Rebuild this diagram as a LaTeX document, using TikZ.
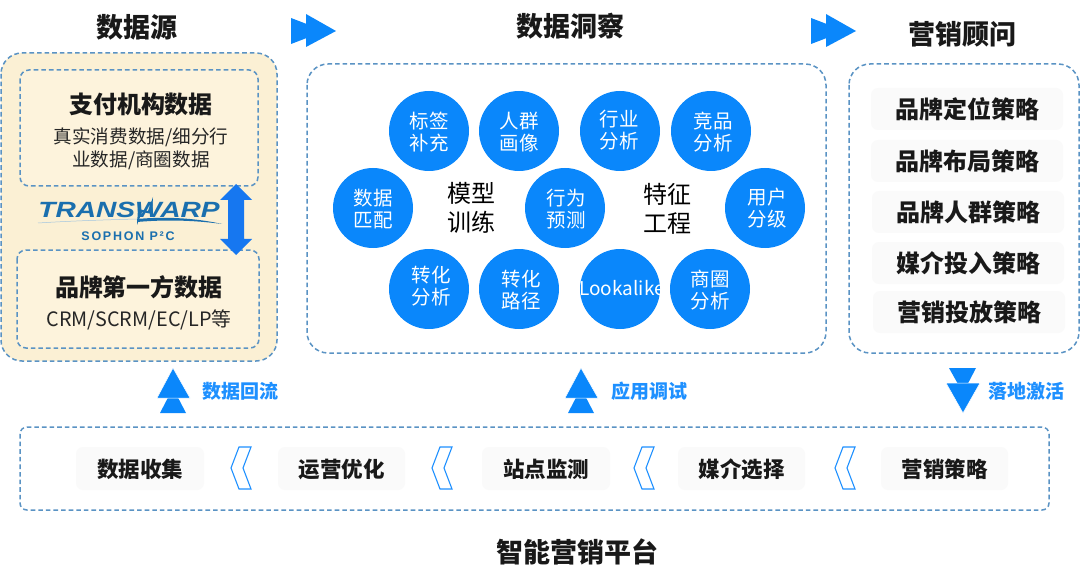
\documentclass[tikz,border=0pt]{standalone}
\usepackage{fontspec}
\setmainfont{Noto Sans CJK SC}
\newfontfamily\logofont[LetterSpace=14]{Liberation Sans}
\newfontfamily\wordfont{Liberation Sans}
\newcommand\fsz[2][0]{\fontsize{#2}{\ifdim#1pt=0pt #2\else #1\fi}\selectfont}
\definecolor{dashblue}{HTML}{5A93C4}
\definecolor{mainblue}{HTML}{0A87FB}
\definecolor{arrowblue}{HTML}{1677F0}
\definecolor{sandout}{HTML}{FBF0D4}
\definecolor{sandin}{HTML}{FDF3DC}
\definecolor{cardgrey}{HTML}{FAFAFA}
\definecolor{logoblue}{HTML}{1A6FAE}
\definecolor{labelblue}{HTML}{1E90FF}
\tikzset{
  x=1pt,y=-1pt,
  dashbox/.style={draw=dashblue,line width=1.5pt,dash pattern=on 4.6pt off 3pt},
  bubble/.style={circle,fill=mainblue,minimum size=80pt,inner sep=0pt},
  bubbletext/.style={text=white,align=center,font=\fsz[22.5]{19.5},inner sep=0pt},
  midtext/.style={text=black,align=center,font=\fsz[29]{24},inner sep=0pt},
  titletext/.style={font=\fsz{27}\bfseries,text=black!90,inner sep=0pt},
  headtext/.style={font=\fsz{24}\bfseries,text=black!90,inner sep=0pt},
  subtext/.style={font=\fsz{18.6},text=black!85,inner sep=0pt,align=center},
  cardtext/.style={font=\fsz{21.5}\bfseries,text=black!90,inner sep=0pt},
  sidetext/.style={font=\fsz{24}\bfseries,text=black!90,inner sep=0pt},
  flowtext/.style={font=\fsz{19}\bfseries,text=labelblue,inner sep=0pt},
  card/.style={fill=cardgrey,rounded corners=7pt},
  chevron/.style={draw=labelblue,line width=1.1pt,fill=white,line join=miter},
  solidblue/.style={fill=mainblue,draw=none},
}
\begin{document}
\begin{tikzpicture}
\useasboundingbox (0,0) rectangle (1080,583);
\fill[white] (0,0) rectangle (1080,583);

% Section frames
\draw[dashbox,fill=sandout,rounded corners=21pt] (1,53) rectangle (277,361);
\draw[dashbox,rounded corners=21pt] (307,64) rectangle (826,353);
\draw[dashbox,rounded corners=21pt] (849,64) rectangle (1079,353);
\draw[dashbox,rounded corners=7pt] (20,427) rectangle (1049,510);

% Inner source frames
\draw[dashbox,fill=sandin,rounded corners=9pt] (20,70) rectangle (258,186);
\draw[dashbox,fill=sandin,rounded corners=9pt] (17,250) rectangle (259,348);

% Titles
\node[titletext] (tsrc) at (137,27) {数据源};
\node[titletext] (tins) at (570,26) {数据洞察};
\node[titletext] (tadv) at (962,34) {营销顾问};
\node[titletext] (tplat) at (577,552) {智能营销平台};

% Header double arrows
\foreach \dx in {0,520}{
  \fill[solidblue,shift={(\dx,0)}] (291,18) -- (291,44) -- (325,31) -- cycle;
  \fill[solidblue,shift={(\dx,0)}] (306,14) -- (306,47) -- (336,31) -- cycle;
}

% Source texts
\node[headtext] (pay) at (141,104) {支付机构数据};
\node[subtext] (pay1) at (141,137) {真实消费数据/细分行};
\node[subtext] (pay2) at (141,160) {业数据/商圈数据};
\node[headtext] (brand) at (139,287) {品牌第一方数据};
\node[subtext,font=\fsz{19.8}] (brand1) at (139,320) {CRM/SCRM/EC/LP等};

% Logo
\node[inner sep=0pt,text=logoblue,font=\wordfont\fsz{21}\bfseries\itshape,xscale=1.34,yscale=1.05] (logo) at (129,210) {TRANSWARP};
\fill[logoblue] (153,197) -- (152,214) -- (142,212) -- (137,225) -- (138,209) -- (148,211) -- cycle;
\fill[logoblue] (137,219) .. controls (170,216) and (200,219) .. (222,224) .. controls (200,221) and (170,219) .. (137,222) -- cycle;
\draw[logoblue!40,line width=0.5pt] (38,223) .. controls (70,221) and (100,220) .. (137,219);
\node[inner sep=0pt,text=logoblue,font=\logofont\fsz{12.5}\bfseries] (sophon) at (128,236) {SOPHON P²C};

% Two-way arrow
\fill[arrowblue] (236,184) -- (252,200) -- (244,200) -- (244,239) -- (252,239) -- (236,255) -- (220,239) -- (228,239) -- (228,200) -- (220,200) -- cycle;

% Insight bubbles
\foreach \nm/\cx/\cy/\tx/\ty/\txt in {
  a/429/131/429/132/{标签\\补充},
  b/519/131/519/132/{人群\\画像},
  c/620/131/619/130/{行业\\分析},
  d/711/131/713/132/{竞品\\分析},
  e/373/208/373/209/{数据\\匹配},
  f/565/208/566/209/{行为\\预测},
  g/765/208/767/208/{用户\\分级},
  h/429/289/431/286/{转化\\分析},
  i/519/289/521/290/{转化\\路径},
  k/710/289/710/290/{商圈\\分析}}{
  \node[bubble] (c\nm) at (\cx,\cy) {};
  \node[bubbletext] (t\nm) at (\tx,\ty) {\txt};
}
\node[bubble] (cj) at (620,289) {};
\node[bubbletext,font=\fsz{19}] (tj) at (622,288) {Lookalike};
\node[midtext] (model) at (471,208) {模型\\训练};
\node[midtext] (feat) at (667,209) {特征\\工程};

% Advisor cards
\foreach \nm/\yy/\dx/\txt in {
  s1/109/0/品牌定位策略,
  s2/161/0/品牌布局策略,
  s3/212/1/品牌人群策略,
  s4/263/1/媒介投入策略,
  s5/312/2/营销投放策略}{
  \fill[card] (871+\dx,\yy-21) rectangle (1063+\dx,\yy+21);
  \node[sidetext] (\nm) at (967+\dx,\yy) {\txt};
}

% Flow arrows
\foreach \dx in {0,408}{
  \fill[solidblue,shift={(\dx,0)}] (173,388) -- (186,413) -- (160,413) -- cycle;
  \fill[solidblue,draw=white,line width=0.5pt,shift={(\dx,0)}] (173,368) -- (190,398) -- (157,398) -- cycle;
}
\fill[solidblue] (949,368) -- (976,368) -- (963,393) -- cycle;
\fill[solidblue,draw=white,line width=0.5pt] (946,383) -- (980,383) -- (963,413) -- cycle;
\node[flowtext] (fl1) at (240,391) {数据回流};
\node[flowtext] (fl2) at (649,391) {应用调试};
\node[flowtext] (fl3) at (1026,391) {落地激活};

% Platform steps
\foreach \nm/\xa/\xb/\txt in {
  p1/76/204/数据收集,
  p2/278/405/运营优化,
  p3/482/610/站点监测,
  p4/678/805/媒介选择,
  p5/881/1008/营销策略}{
  \fill[card] (\xa,447) rectangle (\xb,490);
  \node[cardtext] (\nm) at ({(\xa+\xb)/2},469) {\txt};
}
\foreach \dx in {0,201,403,604}{
  \draw[chevron,shift={(\dx,0)}] (251,447) -- (239,447) -- (231,468) -- (239,489) -- (251,489) -- (243,468) -- cycle;
}
\end{tikzpicture}
\end{document}
